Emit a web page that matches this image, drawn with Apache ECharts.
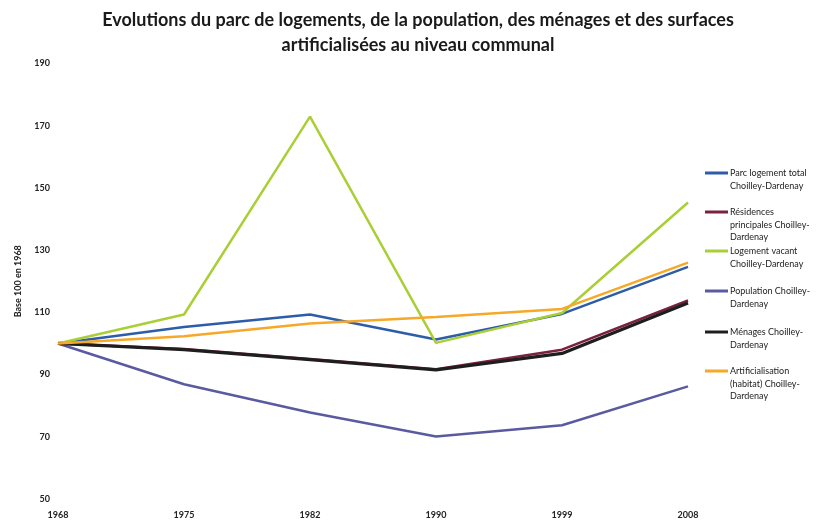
<!DOCTYPE html>
<html>
<head>
<meta charset="utf-8">
<script src="https://cdn.jsdelivr.net/npm/echarts@6/dist/echarts.min.js"></script>
<style>html,body{margin:0;padding:0;background:#fff}#c{width:817px;height:520px}</style>
</head>
<body>
<div id="c"></div>
<script>
var years = ['1968', '1975', '1982', '1990', '1999', '2008'];
var parcLogement = [100, 105.3, 109.3, 101.3, 109.5, 124.6];
var residencesPrincipales = [100, 98.2, 95, 91.7, 98, 113.8];
var logementVacant = [100, 109.3, 172.9, 100.2, 109.8, 145.3];
var population = [100, 86.9, 77.8, 70.1, 73.7, 86.2];
var menages = [100, 98, 94.8, 91.5, 96.8, 113];
var artificialisation = [100, 102.3, 106.4, 108.5, 111.1, 126];

var names = [
  'Parc logement total\nChoilley-Dardenay',
  'Résidences\nprincipales Choilley-\nDardenay',
  'Logement vacant\nChoilley-Dardenay',
  'Population Choilley-\nDardenay',
  'Ménages Choilley-\nDardenay',
  'Artificialisation\n(habitat) Choilley-\nDardenay'
];
var dataArr = [parcLogement, residencesPrincipales, logementVacant, population, menages, artificialisation];
var colors = ['#2D5DA8', '#7A2040', '#AACF36', '#5A5AA0', '#1E1E1E', '#F6A828'];
var widths = [2.5, 2.5, 2.5, 2.5, 3.2, 2.5];
var legendY = [173, 212, 251, 291, 332, 371];
var LH = 12.7;

var chart = echarts.init(document.getElementById('c'));
var legends = names.map(function (n, i) {
  var lines = n.split('\n').length;
  return {
    data: [n],
    orient: 'vertical',
    left: 705,
    top: legendY[i] - (2 * lines - 1) * LH / 2,
    padding: 0,
    itemWidth: 23,
    itemHeight: 3,
    itemGap: 0,
    icon: 'rect',
    selectedMode: false,
    formatter: function (name) {
      var k = name.split('\n').length;
      return new Array(k).join('\n') + name;
    },
    textStyle: {fontFamily: 'Lato', fontSize: 9, color: '#222', lineHeight: LH, padding: [0, 0, 0, -3]}
  };
});

chart.setOption({
  animation: false,
  title: {
    text: 'Evolutions du parc de logements, de la population, des ménages et des surfaces\nartificialisées au niveau communal',
    left: 413,
    textAlign: 'center',
    top: 3,
    textStyle: {fontFamily: 'Lato', fontWeight: 'bold', fontSize: 18, color: '#1a1a1a', lineHeight: 25}
  },
  legend: legends,
  grid: {left: 58, right: 129, top: 63.5, bottom: 20, containLabel: false},
  xAxis: {
    type: 'category',
    data: years,
    boundaryGap: false,
    axisLine: {show: false},
    axisTick: {show: false},
    axisLabel: {fontFamily: 'Lato', fontWeight: 'bold', fontSize: 9, color: '#222', margin: 12}
  },
  yAxis: {
    type: 'value',
    min: 50, max: 190, interval: 20,
    name: 'Base 100 en 1968',
    nameLocation: 'middle',
    nameGap: 35,
    nameTextStyle: {fontFamily: 'Lato', fontWeight: 'bold', fontSize: 9, color: '#222'},
    axisLine: {show: false},
    axisTick: {show: false},
    splitLine: {show: false},
    axisLabel: {fontFamily: 'Lato', fontWeight: 'bold', fontSize: 9, color: '#222', margin: 8}
  },
  series: names.map(function (n, i) {
    return {
      name: n,
      type: 'line',
      data: dataArr[i],
      showSymbol: false,
      symbol: 'none',
      color: colors[i],
      lineStyle: {width: widths[i], color: colors[i]}
    };
  })
});
</script>
</body>
</html>
